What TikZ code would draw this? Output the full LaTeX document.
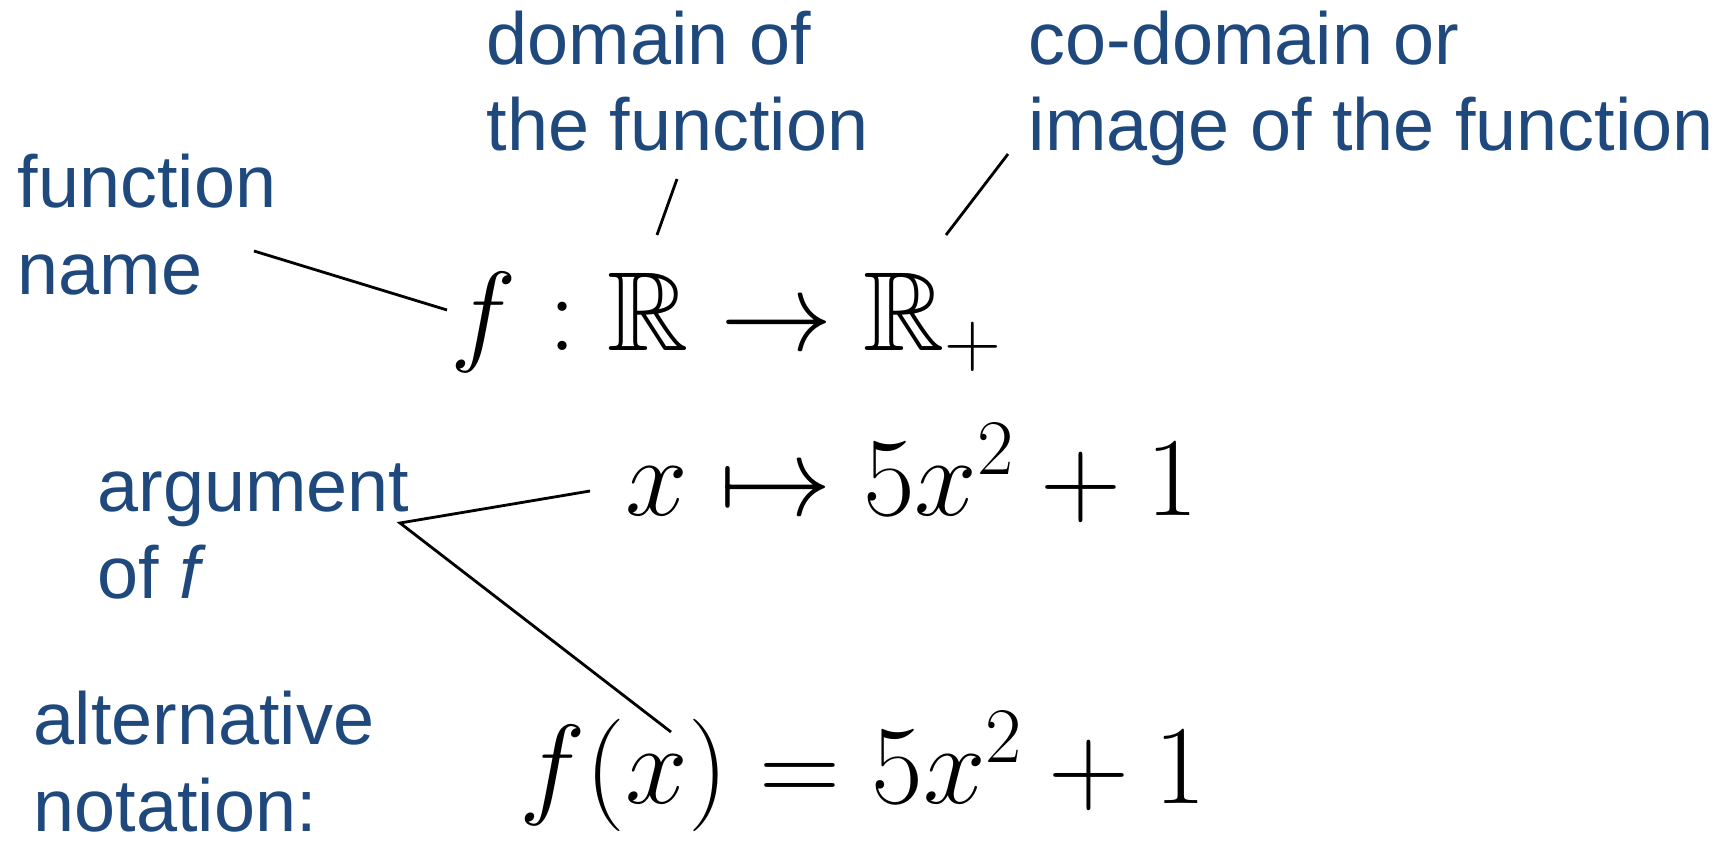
\RequirePackage{fix-cm}
\documentclass[tikz,border=0pt]{standalone}
\usepackage{amssymb}
\usepackage{fontspec}
\setmainfont{Liberation Sans}
\usetikzlibrary{positioning}
\definecolor{notenavy}{RGB}{31,73,125}

\begin{document}
\begin{tikzpicture}[
  note/.style={anchor=base west, inner sep=0pt, align=left, text=notenavy,
    font=\fontsize{21}{24.7}\selectfont},
  formula/.style={anchor=base west, inner sep=0pt,
    font=\fontsize{32}{38}\selectfont},
  pointer/.style={black, line width=0.8pt}]

\useasboundingbox (0,0) rectangle (17.22,8.42);

% labels (anchored at the baseline of their last line)
\node [note] (domain) at (4.86,6.91) {domain of\\the function};
\node [note] (codomain) at (10.28,6.91) {co-domain or\\image of the function};
\node [note] (fname) at (0.17,5.48) {function\\name};
\node [note] (arg) at (0.97,2.44) {argument\\of \textit{f}};
\node [note] (alt) at (0.33,0.11) {alternative\\notation:};

% formulas
\node [formula] (fmap) at (4.50,4.92) {$f:\mathbb{R}\rightarrow\mathbb{R}_+$};
\node [formula] (xmap) at (6.25,3.27) {$x\mapsto 5x^2+1$};
\node [formula] (fx) at (5.19,0.39) {$f(x)=5x^2+1$};

\coordinate (fname tip) at (2.54,5.91);
\coordinate (f tip) at (4.47,5.32);
\coordinate (domain tip) at (6.77,6.63);
\coordinate (R tip) at (6.57,6.07);
\coordinate (codomain tip) at (10.08,6.88);
\coordinate (Rplus tip) at (9.46,6.07);
\coordinate (x tip) at (5.90,3.51);
\coordinate (arg tip) at (4.00,3.19);
\coordinate (fx tip) at (6.71,1.10);

\draw [pointer] (fname tip) -- (f tip);
\draw [pointer] (domain tip) -- (R tip);
\draw [pointer] (codomain tip) -- (Rplus tip);
\draw [pointer] (x tip) -- (arg tip) -- (fx tip);

\end{tikzpicture}
\end{document}
